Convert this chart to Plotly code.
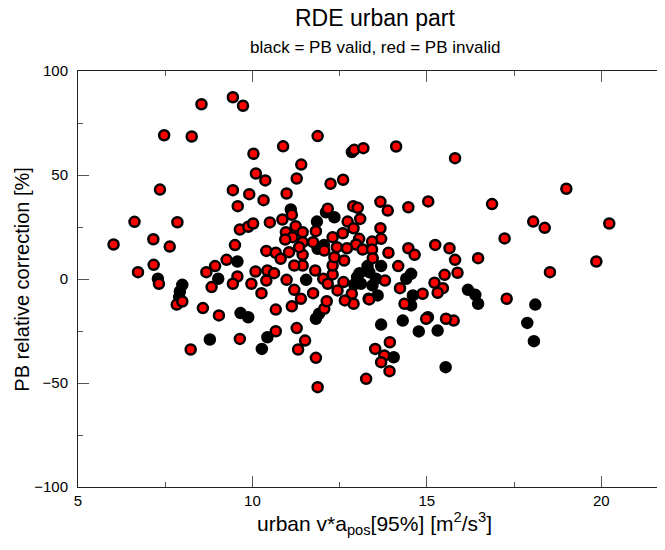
import plotly.graph_objects as go

# PB invalid (red)
red_x = [8.54, 9.44, 9.73, 7.47, 8.26, 10.03, 10.10, 10.37, 7.35, 9.44, 9.91, 10.32, 9.58, 6.62, 7.85,
         9.64, 9.88, 10.02, 10.50, 6.02, 7.16, 7.63, 9.50, 10.40, 7.17, 6.72, 8.93, 9.26, 8.68, 9.57,
         10.09, 10.43, 10.40, 7.32, 8.83, 9.44, 9.97, 10.26, 7.83, 7.99, 8.58, 9.04, 9.64, 8.23, 10.67,
         11.27, 11.51, 11.31, 11.82, 11.87, 13.26, 10.67, 11.13, 11.39, 12.06, 12.13, 11.74, 11.20, 10.98, 10.62,
         11.80, 11.44, 11.20, 12.03, 12.16, 12.30, 12.30, 12.35, 12.63, 12.61, 12.85, 12.90, 12.65, 12.44, 11.87,
         10.88, 12.92, 13.18, 14.12, 15.81, 11.40, 11.27, 12.24, 12.60, 10.98, 13.67, 13.88, 14.47, 15.04, 12.16,
         12.89, 13.02, 13.09, 12.73, 10.86, 11.13, 11.24, 11.44, 10.96, 11.82, 12.30, 12.59, 12.90, 13.67, 13.69,
         13.43, 13.06, 12.97, 11.44, 11.74, 11.15, 10.94, 12.42, 12.71, 14.47, 15.24, 15.65, 19.00, 16.87, 18.05,
         18.38, 20.23, 17.23, 16.47, 19.86, 18.53, 15.81, 15.88, 17.29, 15.77, 10.67, 11.05, 10.81, 11.44, 11.34,
         12.06, 13.16, 13.43, 13.90, 14.65, 13.45, 14.18, 15.51, 15.22, 15.46, 15.31, 14.88, 14.23, 13.80, 13.35,
         14.36, 14.98, 15.55, 13.94, 13.52, 13.78, 13.69, 13.93]
red_y = [84.0, 87.4, 83.3, 69.1, 68.5, 60.2, 50.7, 47.4, 43.0, 42.7, 40.8, 37.9, 35.0, 27.5, 27.3,
         23.8, 25.1, 26.7, 27.2, 16.6, 19.1, 15.6, 16.3, 13.5, 6.8, 3.3, 6.2, 9.2, 3.3, 1.2,
         3.6, 4.1, -0.7, -2.3, -3.9, -2.3, -2.3, -6.8, -12.3, -10.8, -14.0, -17.5, -28.8, -33.9, -25.1,
         -23.6, -29.6, -33.9, -37.9, -52.0, -48.0, -14.7, -13.1, -9.5, -14.3, -10.7, -6.8, -5.2, -0.4, 2.8,
         4.1, 6.5, 6.5, 0.1, -2.3, 2.2, 6.5, 10.5, 8.9, -1.5, -7.1, -11.9, -10.3, -5.5, 68.7,
         63.8, 62.1, 62.9, 63.7, 58.1, 55.0, 48.3, 45.8, 47.7, 41.1, 37.1, 32.9, 34.5, 37.3, 33.8,
         35.0, 34.2, 28.9, 27.6, 28.6, 30.9, 25.4, 22.5, 22.5, 23.0, 20.1, 22.0, 24.4, 24.4, 19.3,
         18.0, 19.3, 16.6, 17.7, 17.7, 20.1, 19.0, 15.3, 14.8, 14.8, 16.4, 14.8, 43.4, 36.0, 27.6,
         24.6, 26.7, 19.5, 10.0, 8.4, 3.3, 9.2, 3.0, -9.5, -20.0, 12.6, 12.9, 9.7, 11.6, 15.3,
         13.7, 14.2, 14.2, 12.6, 11.6, 10.0, 6.2, 2.0, -1.8, -4.4, -6.6, -7.1, -4.4, -0.7, -9.8,
         -11.9, -19.1, -19.1, -30.4, -33.6, -36.8, -40.0, -44.3]

# PB valid (black)
black_x = [9.57, 9.02, 7.29, 7.99, 7.92, 7.90, 9.66, 9.88, 8.78, 10.27, 10.43, 11.82, 11.91, 11.54, 13.00,
           13.11, 13.33, 12.85, 11.10, 12.11, 12.35, 11.85, 11.87, 12.05, 16.18, 16.39, 16.47, 18.11, 17.88, 18.07,
           13.30, 13.69, 14.55, 14.41, 13.35, 13.54, 13.44, 13.59, 14.55, 14.31, 13.69, 15.03, 14.77, 15.31, 14.05,
           15.54, 14.60, 13.07, 12.92]
black_y = [8.4, 0.1, 0.1, -2.8, -6.0, -8.7, -16.4, -18.4, -29.1, -33.6, -28.0, -19.1, -16.7, -0.4, 0.9,
           -2.3, -9.5, 61.0, 33.4, 32.1, 29.7, 27.6, 14.5, 16.3, -5.2, -7.6, -11.9, -12.3, -21.1, -29.9,
           6.2, 6.2, 2.5, 0.1, 3.3, 0.1, -3.1, -7.9, -12.7, -20.0, -21.9, -18.4, -25.2, -24.8, -37.6,
           -42.4, -7.9, 2.8, -2.6]

x_ticks = [5, 10, 15, 20]
y_ticks = [-100, -50, 0, 50, 100]

FONT = "Liberation Sans"

fig = go.Figure()
fig.add_trace(go.Scatter(x=black_x, y=black_y, mode="markers",
                         marker=dict(size=10, color="black", line=dict(color="black", width=2.5)),
                         showlegend=False, hoverinfo="skip"))
fig.add_trace(go.Scatter(x=red_x, y=red_y, mode="markers",
                         marker=dict(size=10, color="#ff0000", line=dict(color="black", width=2.5)),
                         showlegend=False, hoverinfo="skip"))

axis_common = dict(showgrid=False, zeroline=False, showline=True, linecolor="#222", linewidth=1,
                   ticks="inside", ticklen=11, tickcolor="#555", tickwidth=1, mirror="ticks",
                   tickfont=dict(family=FONT, size=15, color="black"))

fig.update_xaxes(range=[5, 22], tickvals=x_ticks,
                 minor=dict(ticks="inside", ticklen=5, dtick=2.5, tickcolor="#555", tick0=5),
                 **axis_common)
fig.update_yaxes(range=[-100, 100], tickvals=y_ticks, ticklabelstandoff=6,
                 minor=dict(ticks="inside", ticklen=5, dtick=25, tickcolor="#555", tick0=0),
                 **axis_common)

fig.update_layout(
    width=665, height=550,
    margin=dict(l=70, r=2, t=63, b=71),
    paper_bgcolor="white", plot_bgcolor="white",
    annotations=[
        dict(text="RDE urban part", x=0.5, y=1.127, xref="paper", yref="paper",
             showarrow=False, xanchor="center", yanchor="middle",
             font=dict(family=FONT, size=23, color="black")),
        dict(text="black = PB valid, red = PB invalid", x=0.5, y=1.0576, xref="paper", yref="paper",
             showarrow=False, xanchor="center", yanchor="middle",
             font=dict(family=FONT, size=17, color="black")),
        dict(text="PB relative correction [%]", x=-0.095, y=0.5, xref="paper", yref="paper",
             showarrow=False, xanchor="center", yanchor="middle", textangle=-90,
             font=dict(family=FONT, size=20, color="black")),
        dict(text="urban v*a<sub>pos</sub>[95%] [m<sup>2</sup>/s<sup>3</sup>]", x=0.5, y=-0.0887,
             xref="paper", yref="paper", showarrow=False, xanchor="center", yanchor="middle",
             font=dict(family=FONT, size=21, color="black")),
    ],
)

fig.write_html("out.html")
